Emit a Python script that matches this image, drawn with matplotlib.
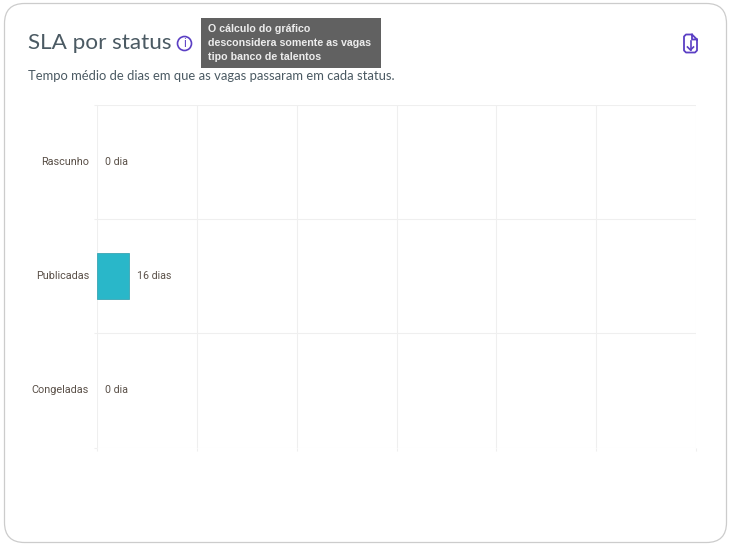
#!/usr/bin/env python3
"""SLA por status - horizontal bar card with tooltip."""

import matplotlib
matplotlib.use("Agg")
import matplotlib.pyplot as plt
from matplotlib.patches import FancyBboxPatch, Rectangle, Circle
from matplotlib.ticker import MultipleLocator

W, H = 732, 545
DPI = 100

categories = ["Rascunho", "Publicadas", "Congeladas"]
values = [0, 16, 0]
value_labels = ["0 dia", "16 dias", "0 dia"]

TEXT = "#4b5a63"
LABEL = "#5a5048"
GRID = "#efefef"
BAR = "#29b7c9"
PURPLE = "#5b3fc4"

fig = plt.figure(figsize=(W / DPI, H / DPI), dpi=DPI, facecolor="white")

# page overlay in pixel coords for the card, header and tooltip
bg = fig.add_axes([0, 0, 1, 1], zorder=0)
bg.set_xlim(0, W)
bg.set_ylim(H, 0)
bg.axis("off")

card = FancyBboxPatch((4.5, 3.5), 722, 539, boxstyle="round,pad=0,rounding_size=20",
                      fc="white", ec="#cccccc", lw=0.9)
bg.add_patch(card)

bg.text(28.5, 43, "SLA por status", fontsize=16.2, family="Lato", color=TEXT,
        va="center", ha="left")
bg.text(28.5, 75.5, "Tempo médio de dias em que as vagas passaram em cada status.",
        fontsize=9.4, family="Lato", color=TEXT, va="center", ha="left")

# info icon
bg.add_patch(Circle((184.5, 43.5), 7, fc="none", ec=PURPLE, lw=1.2))
bg.text(184.5, 43.5, "i", fontsize=8.5, family="Roboto", color=PURPLE, ha="center", va="center")

# tooltip
bg.add_patch(Rectangle((201, 18), 180, 50, fc="#616161", ec="none", zorder=3))
for y, line in zip([28.5, 42.5, 56.5], ["O cálculo do gráfico",
                                        "desconsidera somente as vagas",
                                        "tipo banco de talentos"]):
    bg.text(208.5, y, line, fontsize=7.7, family="Liberation Sans", weight="bold",
            color="#ececec", va="center", ha="left", zorder=4)

# download file icon
bg.plot([692, 686, 684, 684, 686, 695, 697, 697, 692, 692, 697],
        [34.5, 34.5, 36.5, 50.5, 52.5, 52.5, 50.5, 39.5, 34.5, 39.5, 39.5],
        color=PURPLE, lw=1.3, solid_joinstyle="round")
bg.plot([690.5, 690.5], [41, 50], color=PURPLE, lw=1.2)
bg.plot([687.5, 690.5, 693.5], [47, 50, 47], color=PURPLE, lw=1.2)

# chart
left, right, top, bottom = 97, 696, 105, 447.5
ax = fig.add_axes([left / W, 1 - bottom / H, (right - left) / W, (bottom - top) / H], zorder=1)
ax.patch.set_alpha(0)
pos = list(range(len(categories)))
edge_widths = [0.6 if v > 0 else 0 for v in values]
ax.barh(pos, values, height=0.405, color=BAR, edgecolor="#3aa5b3", linewidth=edge_widths, zorder=3)
ax.set_xlim(0, 300)
ax.set_ylim(2.5, -0.5)
ax.xaxis.set_major_locator(MultipleLocator(50))
ax.set_yticks([-0.5, 0.5, 1.5, 2.5])
ax.set_yticklabels([])
ax.tick_params(axis="both", length=2.4, width=0.8, color=GRID, labelbottom=False)
ax.grid(True, color=GRID, lw=0.8, zorder=0)
for s in ax.spines.values():
    s.set_visible(False)

for i, (cat, val, lab) in enumerate(zip(categories, values, value_labels)):
    ax.annotate(cat, (0, i), xytext=(-5.8, 0), textcoords="offset points", ha="right", va="center",
                fontsize=7.8, family="Roboto", color=LABEL)
    ax.annotate(lab, (val, i), xytext=(5.8, 0), textcoords="offset points", ha="left", va="center",
                fontsize=7.7, family="Roboto", color=LABEL)

fig.savefig("out.png", dpi=DPI)
